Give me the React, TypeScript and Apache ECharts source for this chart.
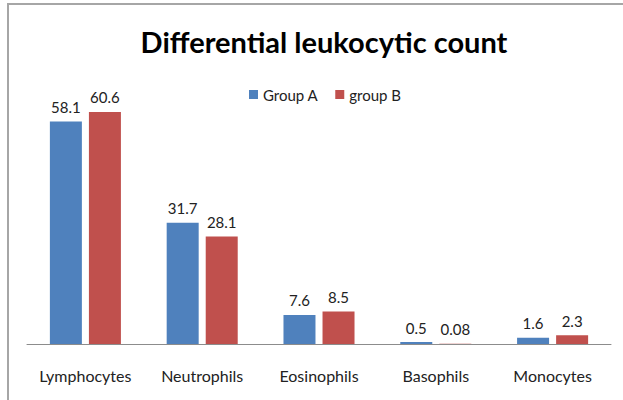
import React, { useEffect, useRef } from "react";
import * as echarts from "echarts";

const categories = ["Lymphocytes", "Neutrophils", "Eosinophils", "Basophils", "Monocytes"];
const groupA = [58.1, 31.7, 7.6, 0.5, 1.6];
const groupB = [60.6, 28.1, 8.5, 0.08, 2.3];
const seriesNames = ["Group A", "group B"];

const FONT = "Lato, 'Noto Sans', sans-serif";

export default function App() {
  const ref = useRef<HTMLDivElement>(null);
  useEffect(() => {
    document.body.style.margin = "0";
    const chart = echarts.init(ref.current!, null, { renderer: "svg" });
    const labelCfg = {
      show: true,
      position: "top" as const,
      distance: 7,
      color: "#222",
      fontSize: 15,
      fontFamily: FONT,
      formatter: (p: any) => String(p.value),
    };
    chart.setOption({
      animation: false,
      backgroundColor: "#fff",
      title: {
        text: "Differential leukocytic count",
        left: 319,
        textAlign: "center",
        top: 22,
        textStyle: { fontSize: 29, fontWeight: "bold", color: "#000", fontFamily: FONT },
      },
      legend: {
        data: seriesNames,
        left: 244,
        top: 82,
        itemWidth: 9,
        itemHeight: 9,
        itemGap: 17,
        icon: "rect",
        textStyle: { fontSize: 15, color: "#222", fontFamily: FONT },
      },
      grid: { left: 27, right: 12, top: 76, bottom: 56 },
      xAxis: {
        type: "category",
        data: categories,
        axisLine: { show: true, lineStyle: { color: "#8c8c8c", width: 1 } },
        axisTick: { show: false },
        axisLabel: {
          interval: 0,
          hideOverlap: false,
          fontSize: 16,
          color: "#222",
          fontFamily: FONT,
          margin: 23,
        },
      },
      yAxis: {
        type: "value",
        min: 0,
        max: 70,
        show: false,
        splitLine: { show: false },
      },
      series: [
        {
          name: seriesNames[0],
          type: "bar",
          data: groupA,
          barWidth: 32,
          barGap: "22%",
          itemStyle: { color: "#4F81BD" },
          label: labelCfg,
        },
        {
          name: seriesNames[1],
          type: "bar",
          data: groupB,
          barWidth: 32,
          barGap: "22%",
          itemStyle: { color: "#C0504D" },
          label: labelCfg,
        },
      ],
      graphic: [
        { type: "line", shape: { x1: 7, y1: 4, x2: 623, y2: 4 }, style: { stroke: "#a6a6a6", lineWidth: 2 } },
        { type: "line", shape: { x1: 8, y1: 3, x2: 8, y2: 400 }, style: { stroke: "#a6a6a6", lineWidth: 2 } },
      ],
    });
    return () => chart.dispose();
  }, []);
  return <div ref={ref} style={{ width: 623, height: 400 }} />;
}
